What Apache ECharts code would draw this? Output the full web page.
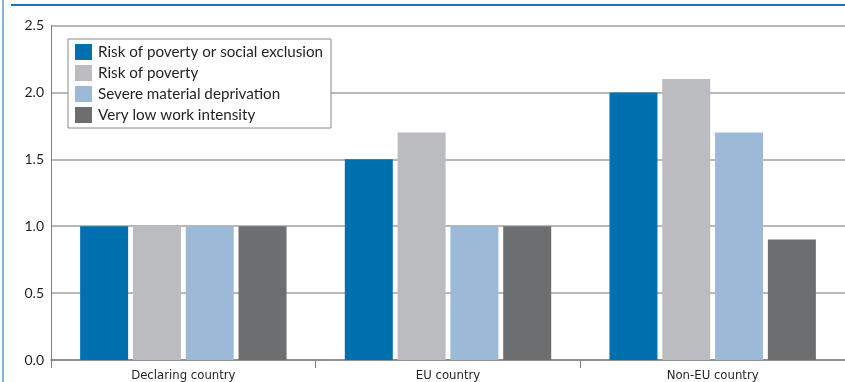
<!DOCTYPE html>
<html>
<head>
<meta charset="utf-8">
<script src="https://cdn.jsdelivr.net/npm/echarts@6/dist/echarts.min.js"></script>
<style>
html,body{margin:0;padding:0;background:#fff;}
#c{width:845px;height:382px;}
</style>
</head>
<body>
<div id="c"></div>
<script>
const categories = ['Declaring country', 'EU country', 'Non-EU country'];
const seriesNames = ['Risk of poverty or social exclusion', 'Risk of poverty', 'Severe material deprivation', 'Very low work intensity'];
const povertyOrExclusion = [1.0, 1.5, 2.0];
const povertyRisk = [1.0, 1.7, 2.1];
const materialDeprivation = [1.0, 1.0, 1.7];
const lowWorkIntensity = [1.0, 1.0, 0.9];
const yTicks = [0, 0.5, 1.0, 1.5, 2.0, 2.5];

const colors = ['#0070AE', '#BBBCC0', '#9DB9D8', '#6D6E70'];
const values = [povertyOrExclusion, povertyRisk, materialDeprivation, lowWorkIntensity];

const chart = echarts.init(document.getElementById('c'), null, {renderer: 'canvas'});
chart.setOption({
  animation: false,
  backgroundColor: '#fff',
  grid: {left: 51, right: 0, top: 25.5, bottom: 21.5, containLabel: false},
  legend: {
    orient: 'vertical',
    left: 68, top: 39,
    padding: [5, 8, 5, 7],
    itemWidth: 17, itemHeight: 16, itemGap: 5,
    borderColor: '#8a8a8a', borderWidth: 1,
    backgroundColor: '#fff',
    icon: 'rect',
    textStyle: {fontFamily: 'Lato', fontSize: 15.2, color: '#231F20', padding: [0, 0, 0, 1]},
    data: seriesNames
  },
  xAxis: {
    type: 'category',
    data: categories,
    axisLine: {lineStyle: {color: '#808080', width: 1.5}},
    axisTick: {show: true, length: 8, lineStyle: {color: '#808080', width: 1}},
    axisLabel: {margin: 9, fontFamily: 'DejaVu Sans Condensed', fontSize: 13, color: '#231F20'}
  },
  yAxis: {
    type: 'value',
    min: 0, max: 2.5, interval: 0.5,
    axisLine: {show: true, lineStyle: {color: '#808080', width: 1}},
    axisTick: {show: false},
    splitLine: {lineStyle: {color: '#A0A0A0', width: 1.5}},
    axisLabel: {margin: 7, fontFamily: 'Lato', fontSize: 14, color: '#231F20',
      formatter: v => yTicks.includes(v) ? v.toFixed(1) : ''}
  },
  series: seriesNames.map((n, i) => ({
    name: n,
    type: 'bar',
    data: values[i],
    barWidth: 48,
    barGap: '10%',
    itemStyle: {color: colors[i]}
  })),
  graphic: [
    {type: 'line', shape: {x1: 11, y1: 5, x2: 845, y2: 5}, style: {stroke: '#1B75BB', lineWidth: 2}, z: 100},
    {type: 'line', shape: {x1: 3, y1: 0, x2: 3, y2: 382}, style: {stroke: '#5A9BD3', lineWidth: 1.5}, z: 100}
  ]
});
</script>
</body>
</html>
